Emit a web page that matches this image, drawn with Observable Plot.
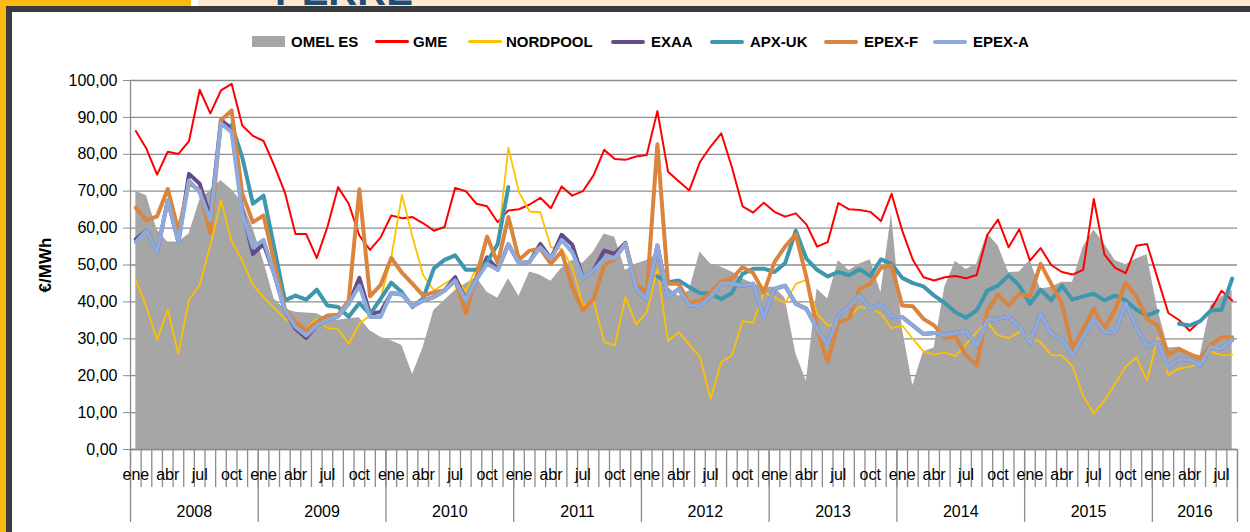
<!DOCTYPE html>
<html><head><meta charset="utf-8">
<script src="https://cdn.jsdelivr.net/npm/d3@7"></script>
<script src="https://cdn.jsdelivr.net/npm/@observablehq/plot@0.6"></script>
<style>
html,body{margin:0;padding:0;background:#fff;}
#root{position:relative;width:1250px;height:532px;overflow:hidden;background:#fff;font-family:"Liberation Sans",Arial,sans-serif;}
.abs{position:absolute;}
.lg-t{position:absolute;top:34px;height:15px;line-height:15px;font-size:15px;font-weight:bold;color:#000;white-space:nowrap;}
.lg-l{position:absolute;border-radius:2px;}
</style></head><body>
<div id="root">
  <div class="abs" style="left:0;top:0;width:191px;height:6px;background:#fdb913"></div>
  <div class="abs" style="left:198px;top:0;width:1052px;height:6px;background:#fde9d2;overflow:hidden">
    <span style="position:absolute;left:77px;top:-29px;font:bold 40px/40px 'Liberation Sans',Arial,sans-serif;color:#1f4e79">PERRE</span>
  </div>
  <div class="abs" style="left:0;top:0;width:6px;height:532px;background:#fdb913"></div>
  <div class="abs" style="left:6px;top:6px;width:1244px;height:6px;background:#3a3a3a"></div>
  <div class="abs" style="left:6px;top:6px;width:6px;height:526px;background:#3a3a3a"></div>
  <div id="legend"></div>
  <div class="abs" style="left:6px;top:255px;width:80px;height:20px;line-height:20px;text-align:center;font-size:17px;font-weight:bold;transform:rotate(-90deg);">€/MWh</div>
  <div id="chart" class="abs" style="left:12px;top:60px"></div>
</div>
<script>
// ---- data (monthly, ene 2008 .. ago 2016) ----
const monthNames = ["ene","feb","mar","abr","may","jun","jul","ago","sep","oct","nov","dic"];
const years = ["2008","2009","2010","2011","2012","2013","2014","2015","2016"];
const yTicks = [0,10,20,30,40,50,60,70,80,90,100];

const omelES = [70.0,68.8,59.5,56.2,56.2,58.4,67.5,70.2,72.9,70.4,67.0,60.0,
 51.0,40.8,38.1,37.2,37.0,36.8,35.4,35.0,35.4,35.7,32.2,30.4,
 29.5,28.2,20.3,27.7,37.7,40.4,43.1,44.9,46.7,42.6,41.0,46.3,
 41.5,48.1,47.2,45.6,49.1,51.2,50.5,53.5,58.4,57.5,48.5,50.3,
 51.2,53.0,44.0,41.5,43.0,53.5,50.3,49.4,48.1,46.3,44.9,44.0,
 44.0,41.0,26.0,18.5,43.5,40.8,51.2,48.5,50.3,51.4,42.5,63.9,
 33.0,17.3,26.5,27.5,44.0,51.0,48.8,50.3,58.4,55.3,48.0,48.1,
 51.2,43.5,44.0,45.3,45.3,54.8,59.5,55.7,51.2,50.1,51.7,52.8,
 38.0,27.5,27.7,25.9,25.5,39.0,41.3,43.1];
const gme = [86.3,81.5,74.5,80.7,80.1,83.6,97.5,91.1,97.3,99.1,87.8,85.0,
 83.6,77.0,69.7,58.4,58.4,51.9,60.3,71.1,66.6,58.0,54.1,57.5,
 63.4,62.7,63.0,61.3,59.3,60.3,70.9,70.0,66.6,65.9,61.6,64.8,
 65.1,66.4,68.2,65.4,71.3,68.8,70.0,74.3,81.2,78.7,78.5,79.4,
 79.8,91.7,75.3,72.7,70.2,77.9,82.1,85.7,76.5,65.9,64.2,66.9,
 64.4,63.1,64.0,61.0,55.0,56.2,66.8,65.1,64.9,64.4,61.9,69.3,
 59.3,51.4,46.7,45.8,46.7,47.0,46.4,47.3,58.2,62.3,54.8,59.7,
 51.2,54.6,50.0,48.1,47.4,48.7,67.9,52.8,49.2,47.8,55.2,55.7,
 46.3,37.0,35.1,32.2,34.8,37.9,43.0,40.4];
const nordpool = [46.0,38.6,29.7,37.9,25.9,40.6,44.6,55.3,67.5,56.5,51.2,44.6,
 41.3,38.4,35.4,34.1,32.7,35.4,32.9,32.6,28.6,34.1,36.3,41.0,
 52.1,69.0,57.5,47.2,43.1,44.9,46.7,42.9,49.4,51.2,55.7,81.8,
 69.7,64.5,64.3,54.8,54.4,49.4,39.0,40.4,29.1,28.2,41.3,33.9,
 37.2,49.0,29.4,31.8,28.4,25.0,13.7,23.7,25.5,34.8,34.3,42.6,
 41.3,39.7,44.9,46.0,36.8,33.6,34.1,36.0,38.6,38.4,36.8,32.9,
 33.6,30.0,26.6,25.7,26.3,25.3,28.5,31.8,34.5,30.9,30.2,31.8,
 30.4,29.1,25.5,25.5,22.5,14.6,9.7,13.3,17.8,22.5,25.0,18.7,
 30.4,20.2,22.0,22.3,23.7,26.6,25.5,25.7];
const exaa = [57.0,59.3,53.5,67.5,56.2,74.7,72.0,63.0,89.3,87.0,64.8,53.0,
 55.7,47.6,37.7,32.7,30.2,33.6,35.1,36.1,39.5,46.5,36.8,37.3,
 42.4,42.0,38.8,40.4,41.3,43.1,46.7,40.4,46.0,52.1,48.7,55.6,
 50.5,50.9,55.7,51.7,58.2,55.5,46.5,48.5,53.9,53.0,56.0,43.5,
 40.6,55.3,41.3,43.5,39.0,38.8,41.3,44.9,44.9,44.4,44.9,35.9,
 43.5,44.4,39.5,38.1,32.7,28.6,36.3,38.6,41.7,38.1,39.5,36.0,
 35.9,33.6,31.3,31.6,31.1,31.6,32.0,28.2,35.0,35.4,36.0,33.2,
 28.8,36.8,31.3,30.0,25.5,30.4,35.4,31.8,31.8,39.5,33.2,27.9,
 29.1,22.3,24.6,24.3,22.8,27.7,27.3,29.7];
const apxUK = [null,null,null,null,null,null,null,null,null,88.0,79.2,66.6,
 68.8,54.8,40.4,41.7,40.6,43.3,39.0,38.6,36.0,39.7,36.6,40.8,
 45.2,42.6,38.6,41.0,49.1,51.4,52.6,48.7,48.7,50.8,55.7,71.1,
 null,null,null,null,null,null,null,null,null,null,null,null,
 null,46.9,45.3,45.8,44.0,42.4,42.2,40.8,42.4,47.6,49.0,49.0,
 48.1,50.5,59.3,51.7,48.7,46.9,48.1,47.2,48.8,47.0,51.5,50.3,
 46.5,45.1,44.2,41.7,39.7,37.2,35.7,37.7,43.1,44.4,47.2,44.4,
 39.5,43.3,40.4,44.4,40.6,41.5,42.2,40.4,41.7,40.4,37.9,36.3,
 37.5,null,34.1,33.6,34.8,37.7,37.9,46.3];
const epexF = [65.5,62.1,63.2,70.6,59.3,72.2,70.2,58.6,89.2,91.9,69.3,61.6,
 63.4,50.8,38.1,34.5,32.2,34.5,36.3,36.5,40.4,70.5,41.5,44.6,
 51.9,47.9,44.9,41.7,42.6,43.1,45.8,36.9,46.9,57.7,50.5,63.0,
 51.4,53.9,54.4,50.3,53.7,44.0,37.7,40.8,49.9,51.7,55.7,44.9,
 42.4,82.7,44.9,44.9,39.7,40.4,42.4,45.6,46.3,49.4,47.8,42.6,
 50.8,55.0,58.3,46.7,32.7,23.7,34.5,35.4,43.5,44.9,49.2,49.9,
 39.0,38.8,35.4,33.6,30.3,30.6,25.5,22.8,37.7,42.0,39.0,42.2,
 41.5,50.3,44.9,39.5,27.3,32.7,38.1,32.7,37.9,45.2,41.5,35.4,
 33.6,25.7,27.3,25.9,24.6,28.4,30.4,30.4];
const epexA = [56.2,59.3,53.5,67.5,56.2,72.9,69.7,62.1,88.4,86.0,63.9,54.8,
 56.8,47.6,37.7,33.2,30.9,33.6,35.1,36.1,39.5,44.4,35.9,35.9,
 42.4,42.0,38.8,40.4,41.3,43.1,45.8,40.4,46.0,50.3,48.7,55.6,
 50.5,50.9,54.8,51.7,56.8,53.5,46.5,48.5,51.7,51.9,55.7,43.5,
 40.6,55.3,41.3,43.5,39.0,38.8,41.3,44.9,44.9,44.4,44.9,35.9,
 43.5,44.4,39.5,38.1,32.7,28.6,36.3,38.6,41.7,38.1,39.5,36.0,
 35.9,33.6,31.3,31.6,31.1,31.6,32.0,28.2,35.0,35.4,36.0,33.2,
 28.8,36.8,31.3,30.0,25.5,30.4,35.4,31.8,31.8,39.5,33.2,27.9,
 29.1,22.3,24.6,24.3,22.8,27.7,27.3,29.7];

const seriesMeta = [
  {name:"OMEL ES", color:"#a6a6a6", kind:"area"},
  {name:"GME", color:"#ff0000", kind:"thin"},
  {name:"NORDPOOL", color:"#ffc000", kind:"thin"},
  {name:"EXAA", color:"#664a8c", kind:"thick"},
  {name:"APX-UK", color:"#3d98ad", kind:"thick"},
  {name:"EPEX-F", color:"#db843d", kind:"thick"},
  {name:"EPEX-A", color:"#8eaadb", kind:"thick"}
];

// ---- legend ----
const legendPos = [[252,291],[375,413],[468,506],[611,651],[710,750],[824,864],[933,973]];
const lg = document.getElementById("legend");
seriesMeta.forEach((s,k)=>{
  const sw = document.createElement("div");
  const [sx, tx] = legendPos[k];
  if (s.kind === "area") {
    sw.className = "abs";
    sw.style.cssText = `left:${sx}px;top:36px;width:33px;height:11px;background:${s.color}`;
  } else {
    sw.className = "lg-l";
    const h = s.kind === "thin" ? 2.5 : 4;
    sw.style.cssText = `left:${sx}px;top:${41.5-h/2}px;width:34px;height:${h}px;background:${s.color}`;
  }
  lg.appendChild(sw);
  const t = document.createElement("div");
  t.className = "lg-t";
  t.style.left = tx + "px";
  t.textContent = s.name;
  lg.appendChild(t);
});

// ---- table ----
const rows = omelES.map((v,i)=>({
  i, omel:v, gme:gme[i], nordpool:nordpool[i], exaa:exaa[i], apx:apxUK[i], epexF:epexF[i], epexA:epexA[i]
}));
const N = rows.length;
const monthBounds = d3.range(N+1).map(k=>k-0.5);
const yearBounds = years.map((y,k)=>k*12-0.5).concat([N-0.5]);
const labelIdx = rows.filter(r=>r.i%3===0).map(r=>r.i);
const yearCenters = years.map((y,k)=>(k*12-0.5 + Math.min(k*12+11.5, N-0.5))/2);
const yearLabel = new Map(yearCenters.map((c,k)=>[c, years[k]]));
const fmt = v => d3.format(".2f")(v).replace(".", ",");
const gridColor = "#8c8c8c";
const font = '"Liberation Sans", Arial, sans-serif';

const chart = Plot.plot({
  width: 1238, height: 472,
  marginLeft: 118, marginRight: 13, marginTop: 20, marginBottom: 83,
  style: {fontFamily: font, fontSize: "16px", color: "#000", background: "transparent", overflow: "visible"},
  x: {domain: [-0.5, N-0.5], label: null},
  y: {domain: [0, 100], label: null},
  marks: [
    Plot.gridY(yTicks, {stroke: gridColor, strokeOpacity: 1, strokeWidth: 1.3}),
    Plot.areaY(rows, {x: "i", y: "omel", fill: "#a6a6a6"}),
    Plot.ruleY([0], {stroke: gridColor, strokeWidth: 1.3}),
    Plot.ruleX([-0.5], {y1: 0, y2: 100, stroke: gridColor, strokeWidth: 1.3}),
    Plot.axisY(yTicks, {tickSize: 7, tickPadding: 6, tickFormat: fmt, stroke: gridColor, fill: "#000", fontSize: 16, label: null}),
    Plot.line(rows, {x: "i", y: "gme", stroke: "#ff0000", strokeWidth: 2}),
    Plot.line(rows, {x: "i", y: "nordpool", stroke: "#ffc000", strokeWidth: 1.8}),
    Plot.line(rows, {x: "i", y: "exaa", stroke: "#664a8c", strokeWidth: 4}),
    Plot.line(rows, {x: "i", y: "apx", stroke: "#3d98ad", strokeWidth: 4}),
    Plot.line(rows, {x: "i", y: "epexF", stroke: "#db843d", strokeWidth: 4}),
    Plot.line(rows, {x: "i", y: "epexA", stroke: "#8eaadb", strokeWidth: 4}),
    Plot.axisX(monthBounds, {tickSize: 38, tickFormat: () => "", stroke: gridColor, strokeWidth: 1.3, label: null}),
    Plot.axisX(yearBounds, {tickSize: 73, tickFormat: () => "", stroke: gridColor, strokeWidth: 1.3, label: null}),
    Plot.axisX(labelIdx, {tickSize: 0, tickPadding: 19, tickFormat: d => monthNames[d % 12], fill: "#000", fontSize: 16, label: null}),
    Plot.axisX(yearCenters, {tickSize: 0, tickPadding: 56, tickFormat: d => yearLabel.get(d), fill: "#000", fontSize: 16, label: null})
  ]
});
document.getElementById("chart").appendChild(chart);
</script>
</body></html>
